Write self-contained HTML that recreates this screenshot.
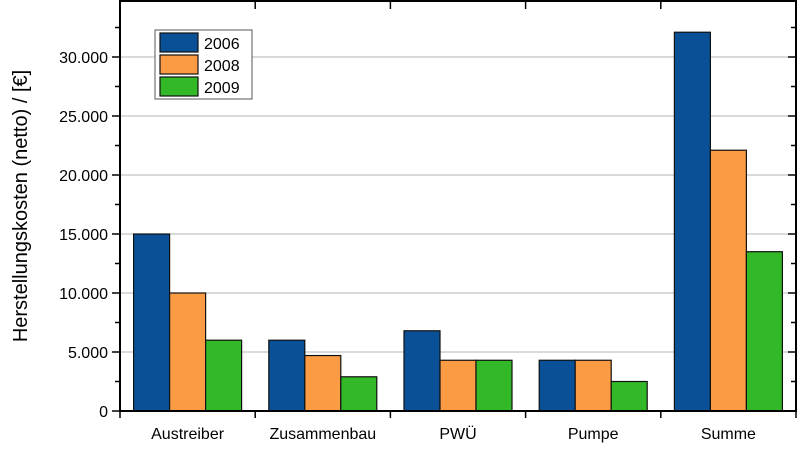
<!DOCTYPE html>
<html><head><meta charset="utf-8"><style>
body{margin:0;background:#fff;width:800px;height:452px;overflow:hidden}
svg text{font-family:"Liberation Sans",Arial,sans-serif;fill:#000}
</style></head><body>
<svg id="chart" width="800" height="452"></svg>
<script>
const categories=["Austreiber","Zusammenbau","PWÜ","Pumpe","Summe"];
const seriesNames=["2006","2008","2009"];
const values2006=[15000,6000,6800,4300,32100];
const values2008=[10000,4700,4300,4300,22100];
const values2009=[6000,2900,4300,2500,13500];
const yTicks=[0,5000,10000,15000,20000,25000,30000];
const yTickLabels=["0","5.000","10.000","15.000","20.000","25.000","30.000"];
const colors=["#0a5096","#fb9b44","#33b828"];
const NS="http://www.w3.org/2000/svg";
const svg=document.getElementById("chart");
const L=120,R=796,T=1,B=411;
const y=v=>B-v*0.0118;
const band=(R-L)/categories.length;
const xc=i=>L+band*(i+0.5);
function el(tag,attrs,parent){const e=document.createElementNS(NS,tag);for(const k in attrs)e.setAttribute(k,attrs[k]);(parent||svg).appendChild(e);return e;}
// grid
yTicks.forEach((t,i)=>{if(t>0){const g=el("line",{x1:L,x2:R,y1:y(t),y2:y(t),stroke:"#b4b4b4","stroke-width":1});

}});
// bars
const series=[values2006,values2008,values2009];
const bw=36;
series.forEach((vals,s)=>{vals.forEach((v,i)=>{
const r=el("rect",{x:xc(i)-1.5*bw+s*bw,y:y(v),width:bw,height:B-y(v),fill:colors[s],stroke:"#111","stroke-width":1.2});


});});
// frame
const f=el("rect",{x:L,y:T,width:R-L,height:B-T,fill:"none",stroke:"#000","stroke-width":2});


// y ticks
for(let v=0;v<=32500;v+=2500){const major=v%5000===0;const len=major?8:5;
el("line",{x1:L-len,x2:L,y1:y(v),y2:y(v),stroke:"#000","stroke-width":1.5});
el("line",{x1:R-len,x2:R,y1:y(v),y2:y(v),stroke:"#000","stroke-width":1.5});}
yTicks.forEach((t,i)=>{const tx=el("text",{x:L-12,y:y(t)+6,"text-anchor":"end","font-size":16});tx.textContent=yTickLabels[i];

});
// x ticks and labels
for(let i=0;i<=categories.length;i++){const x=L+band*i;
el("line",{x1:x,x2:x,y1:B,y2:B+7,stroke:"#000","stroke-width":1.5});
el("line",{x1:x,x2:x,y1:T,y2:T+8,stroke:"#000","stroke-width":1.5});}
categories.forEach((c,i)=>{const tx=el("text",{x:xc(i),y:439,"text-anchor":"middle","font-size":16});tx.textContent=c;

});
// y title
const yt=el("text",{x:0,y:0,"text-anchor":"middle","font-size":20,transform:"translate(27,206) rotate(-90)"});
yt.textContent="Herstellungskosten (netto) / [€]";


// legend
const lg=el("g",{});


el("rect",{x:155,y:30,width:97,height:69,fill:"#fff",stroke:"#555","stroke-width":1},lg);
seriesNames.forEach((n,s)=>{
el("rect",{x:160,y:33+s*22,width:38,height:19,fill:colors[s],stroke:"#111","stroke-width":1.2},lg);
const tx=el("text",{x:204,y:49+s*22,"font-size":16},lg);tx.textContent=n;


});
</script>
</body></html>
